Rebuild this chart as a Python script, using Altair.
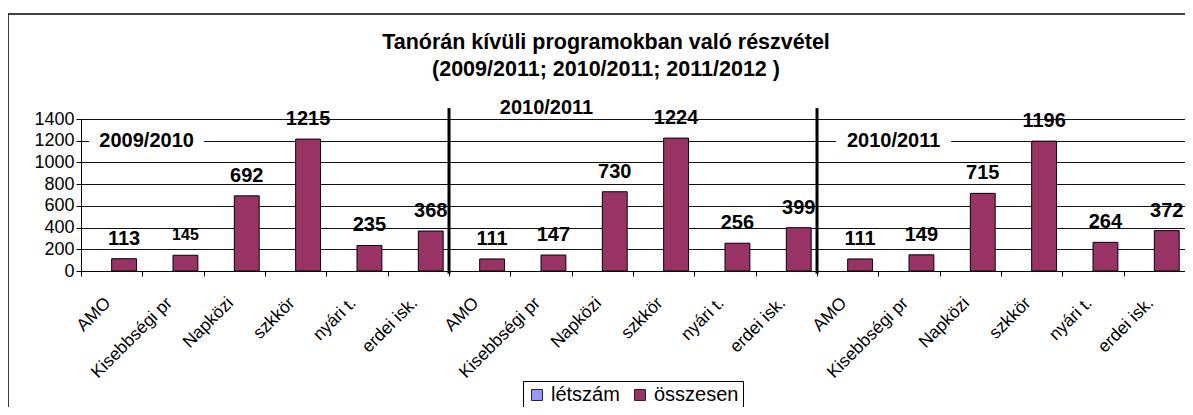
import altair as alt
import pandas as pd

# ---------------- data ----------------
programs = ["AMO", "Kisebbségi pr", "Napközi", "szkkör", "nyári t.", "erdei isk."]
period_keys = ["1", "2", "3"]
values_p1 = [113, 145, 692, 1215, 235, 368]
values_p2 = [111, 147, 730, 1224, 256, 399]
values_p3 = [111, 149, 715, 1196, 264, 372]
series_names = ["létszám", "összesen"]
series_colors = ["#9999FF", "#993366"]
y_ticks = [0, 200, 400, 600, 800, 1000, 1200, 1400]

period_labels = ["2009/2010", "2010/2011", "2010/2011"]
period_anchor = ["Kisebbségi pr|1", "Kisebbségi pr|2", "Kisebbségi pr|3"]
period_level = [1200, 1500, 1200]

separator_cats = ["AMO|2", "AMO|3"]

title_lines = ["Tanórán kívüli programokban való részvétel",
               "(2009/2011; 2010/2011; 2011/2012 )"]

# ---------------- tables ----------------
cats = [f"{p}|{k}" for k in period_keys for p in programs]
all_vals = values_p1 + values_p2 + values_p3
bars = pd.DataFrame({"cat": cats, "value": all_vals, "series": "összesen"})
seps = pd.DataFrame({"cat": separator_cats, "ytop": 1500, "ybot": -25})
one_row = pd.DataFrame({"k": [0]})

FONT = "Liberation Sans"
W, H = 1104, 152

xscale = alt.Scale(domain=cats, paddingInner=0, paddingOuter=0)
xaxis = alt.Axis(title=None, tickBand="extent", labelAngle=-45, labelAlign="right",
                 labelBaseline="middle", labelFontSize=17.5, labelColor="black",
                 labelExpr="split(datum.label, '|')[0]", tickColor="black", tickSize=5,
                 domainColor="black", labelPadding=24, labelOffset=-4, grid=False,
                 labelFont=FONT)
yscale = alt.Scale(domain=[0, 1400], nice=False)
yaxis = alt.Axis(title=None, values=y_ticks, format="d", labelFontSize=18,
                 labelColor="black", tickColor="black", tickSize=5, domainColor="black",
                 labelPadding=2, grid=True, gridColor="#111111", gridWidth=1,
                 labelFont=FONT)


def X(bp=0.5):
    return alt.X("cat:N", scale=xscale, axis=xaxis, sort=cats, bandPosition=bp)


def Y(field):
    return alt.Y(field, scale=yscale, axis=yaxis)


xoff = alt.XOffset("series:N", scale=alt.Scale(domain=series_names, paddingInner=0,
                                               paddingOuter=0.234))
color = alt.Color("series:N", scale=alt.Scale(domain=series_names, range=series_colors),
                  legend=alt.Legend(title=None, orient="none", legendX=442, legendY=262,
                                    direction="horizontal", symbolType="square",
                                    symbolSize=120, symbolStrokeColor="#222222",
                                    symbolStrokeWidth=1, labelFontSize=20,
                                    labelColor="black", columnPadding=10,
                                    strokeColor="black", fillColor="white", padding=4,
                                    labelFont=FONT))

base = alt.Chart(bars)
bar_layer = base.mark_bar(stroke="black", strokeWidth=1).encode(
    x=X(), xOffset=xoff, y=Y("value:Q"), color=color)

label_layer = base.mark_text(fontWeight="bold", baseline="middle", dy=-20, font=FONT,
                             color="black").encode(
    x=X(), xOffset=xoff, y=Y("value:Q"),
    text="value:Q",
    size=alt.condition("datum.cat == 'Kisebbségi pr|1'", alt.value(16), alt.value(20)))

sep_layer = alt.Chart(seps).mark_rule(color="black", strokeWidth=3).encode(
    x=X(0), y=Y("ytop:Q"), y2="ybot:Q")

# period labels on white boxes
period_band = [0.07, 0.59, 0.25]
period_layers = []
for lab, anc, lev, bp in zip(period_labels, period_anchor, period_level, period_band):
    d = pd.DataFrame({"cat": [anc], "level": [lev], "label": [lab]})
    c = alt.Chart(d)
    box = c.mark_point(shape="M-1,-0.17L1,-0.17L1,0.17L-1,0.17Z", size=13225,
                       filled=True, color="white", opacity=1, strokeWidth=0).encode(
        x=X(bp), y=Y("level:Q"))
    txt = c.mark_text(fontWeight="bold", fontSize=20, font=FONT, color="black",
                      baseline="middle").encode(
        x=X(bp), y=Y("level:Q"), text="label:N")
    period_layers += [box, txt]

title_layer = alt.Chart(one_row).mark_text(
    fontWeight="bold", fontSize=21.5, font=FONT, color="black", align="center",
    baseline="alphabetic", lineHeight=27).encode(
    x=alt.value(525), y=alt.value(-70), text=alt.value(title_lines))

frame_layer = alt.Chart(one_row).mark_rect(fill=None, fillOpacity=0, stroke="black",
                                           strokeWidth=1.5).encode(
    x=alt.value(-73), x2=alt.value(1200), y=alt.value(-105), y2=alt.value(420))

chart = alt.layer(bar_layer, *period_layers, sep_layer, label_layer, title_layer,
                  frame_layer).properties(
    width=W, height=H,
    padding={"left": 73, "top": 111, "right": 0, "bottom": 136},
    autosize=alt.AutoSizeParams(type="none"),
).configure(font=FONT, background="white").configure_view(stroke="#888888", strokeWidth=1)

chart.save("out.html", embed_options={"renderer": "svg", "actions": False})
